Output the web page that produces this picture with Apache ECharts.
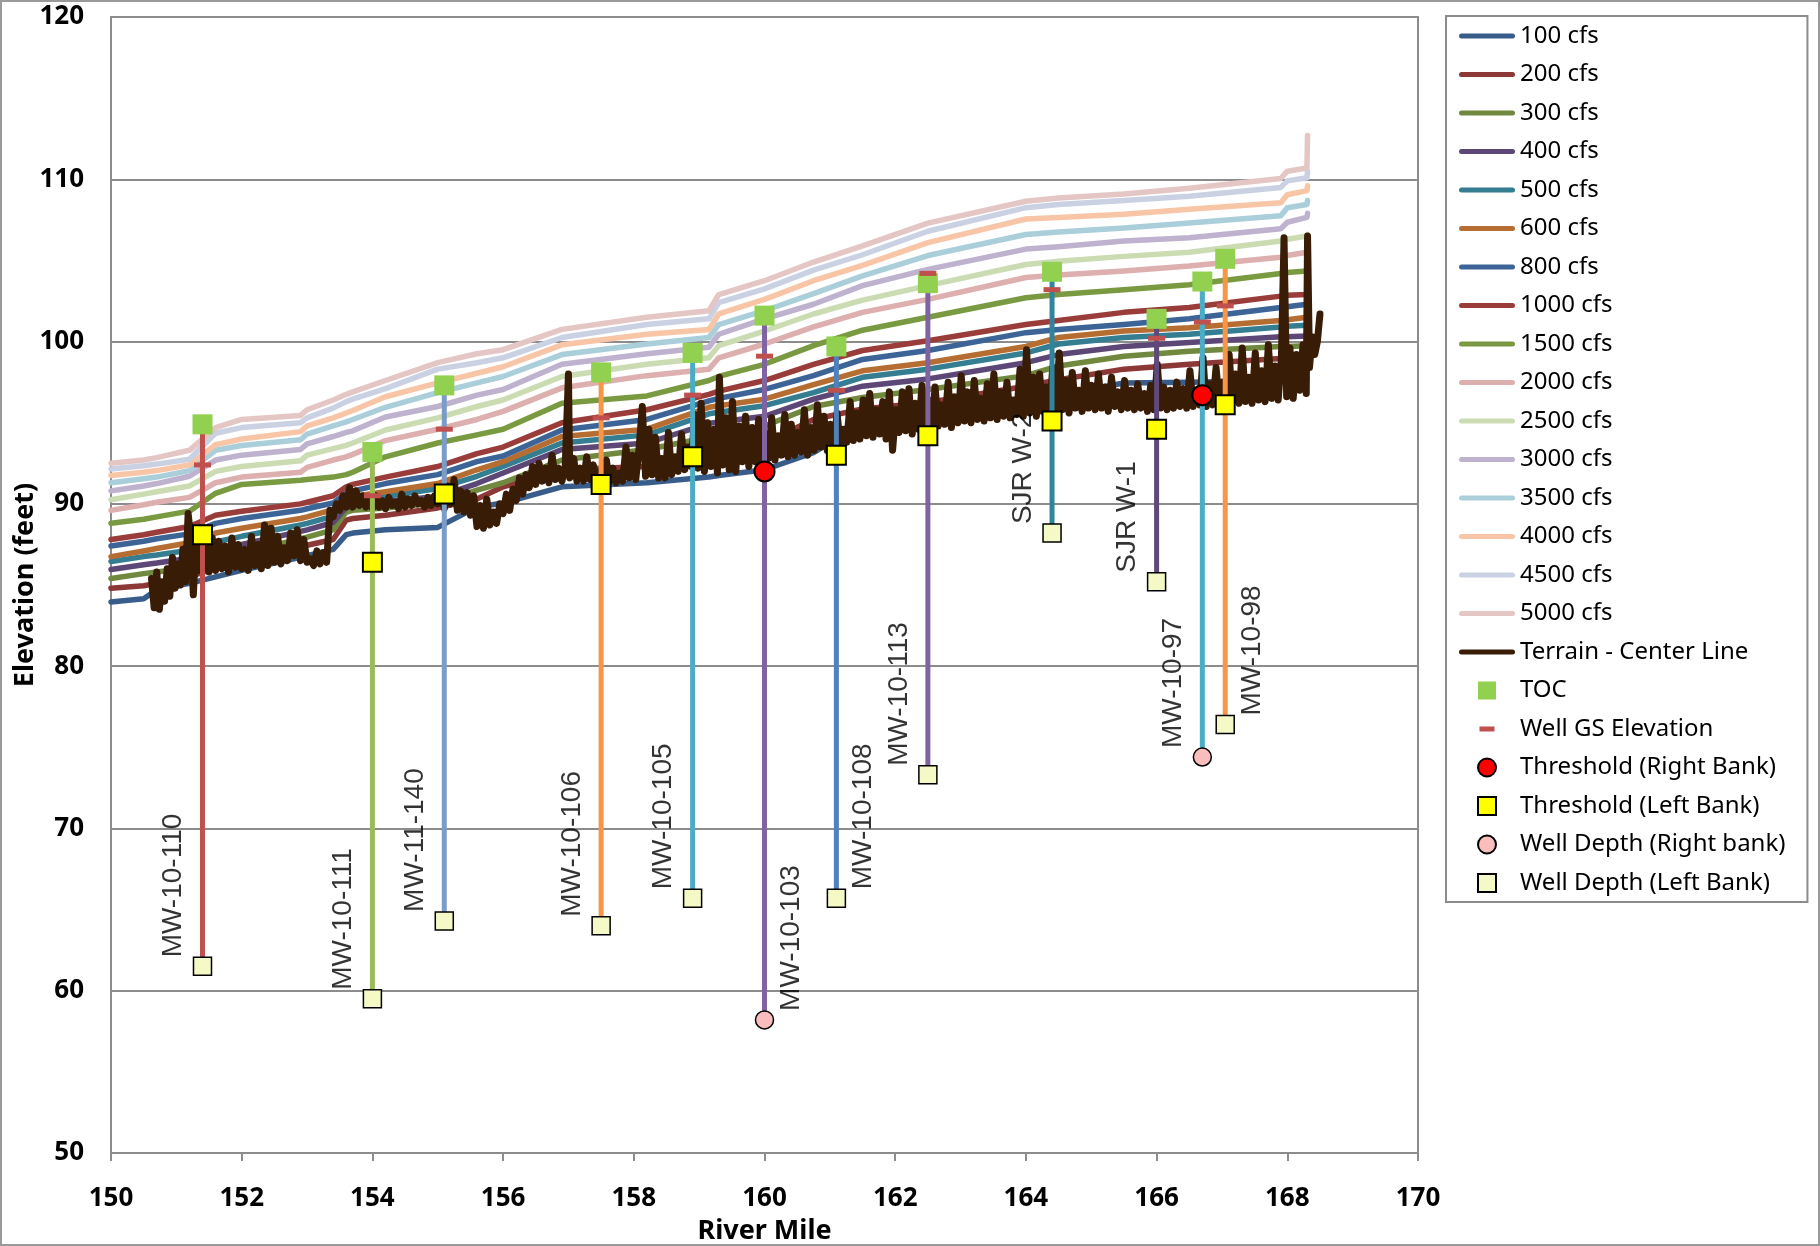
<!DOCTYPE html>
<html><head><meta charset="utf-8">
<script src="https://cdn.jsdelivr.net/npm/echarts@6/dist/echarts.min.js"></script>
<style>html,body{margin:0;padding:0;background:#fff}#c{width:1820px;height:1246px}</style>
</head><body><div id="c"></div>
<script>
// ---------- DATA ----------
const xTicks = [150,152,154,156,158,160,162,164,166,168,170];
const yTicks = [50,60,70,80,90,100,110,120];

const flowNames = ['100 cfs','200 cfs','300 cfs','400 cfs','500 cfs','600 cfs','800 cfs','1000 cfs','1500 cfs','2000 cfs','2500 cfs','3000 cfs','3500 cfs','4000 cfs','4500 cfs','5000 cfs'];
const flowMiles = [150.0,150.5,150.7,151.2,151.6,152.0,152.9,153.0,153.4,153.6,153.7,154.2,155.0,155.6,156.0,156.9,158.2,159.15,159.3,160.0,160.75,161.5,162.5,164.0,164.5,165.5,166.5,167.9,168.0,168.3,168.31];

const flow100  = [83.95,84.15,84.7,85.1,85.5,85.9,86.7,86.8,87.2,88.1,88.2,88.4,88.55,89.8,90.05,91.05,91.3,91.65,91.75,92.1,93.15,95.0,95.65,96.2,96.7,97.45,97.5,97.6,97.6,97.7,97.7];
const flow200  = [84.8,84.95,85.1,85.5,86.05,86.45,87.35,87.45,87.8,89.0,89.1,89.3,89.75,90.3,91.05,92.1,92.3,93.1,93.25,93.75,95.2,95.85,96.25,97.25,97.65,98.3,98.6,98.95,99.0,99.0,99.0];
const flow300  = [85.4,85.7,85.8,86.05,86.55,86.95,87.85,87.95,88.4,89.5,89.6,89.75,90.05,90.85,91.3,92.7,93.35,94.1,94.25,94.8,96.0,96.55,97.05,97.9,98.5,99.1,99.4,99.7,99.7,99.75,99.75];
const flow400  = [85.95,86.25,86.35,86.65,87.15,87.5,88.3,88.4,88.85,89.8,89.9,90.15,90.45,91.25,91.9,93.35,93.75,94.95,95.05,95.4,96.45,97.25,97.7,98.7,99.2,99.7,99.95,100.3,100.3,100.35,100.35];
const flow500  = [86.45,86.75,86.85,87.15,87.65,88.0,88.7,88.8,89.25,90.05,90.15,90.45,90.95,91.7,92.3,93.75,94.25,95.55,95.65,96.05,96.85,97.8,98.3,99.3,99.85,100.25,100.45,100.9,100.95,101.0,101.0];
const flow600  = [86.75,87.1,87.25,87.6,88.2,88.5,89.1,89.2,89.65,90.35,90.45,90.75,91.25,92.1,92.6,94.15,94.6,95.95,96.05,96.45,97.35,98.2,98.7,99.7,100.25,100.65,100.85,101.3,101.35,101.5,101.5];
const flow800  = [87.4,87.7,87.85,88.15,88.8,89.1,89.6,89.7,90.05,90.65,90.8,91.25,91.8,92.6,92.95,94.55,95.2,96.35,96.5,97.05,97.9,98.9,99.45,100.55,100.75,101.05,101.4,102.1,102.15,102.3,102.3];
const flow1000 = [87.8,88.1,88.25,88.6,89.3,89.55,90.0,90.1,90.5,91.05,91.2,91.65,92.3,93.1,93.5,95.0,95.8,96.75,96.95,97.6,98.6,99.45,100.05,101.05,101.3,101.8,102.1,102.8,102.85,102.9,103.0];
const flow1500 = [88.8,89.05,89.2,89.55,90.65,91.2,91.45,91.5,91.65,91.8,91.95,92.9,93.75,94.25,94.6,96.2,96.65,97.6,97.85,98.6,99.75,100.7,101.5,102.7,102.9,103.2,103.5,104.2,104.25,104.35,104.4];
const flow2000 = [89.6,89.95,90.1,90.4,91.3,91.65,91.95,92.25,92.7,92.9,93.05,93.9,94.6,95.2,95.7,97.15,97.9,98.3,99.0,99.85,100.9,101.8,102.6,103.95,104.1,104.35,104.65,105.2,105.3,105.5,105.6];
const flow2500 = [90.25,90.6,90.75,91.1,92.0,92.3,92.65,93.0,93.4,93.6,93.75,94.55,95.3,96.0,96.4,97.85,98.6,99.0,99.75,100.65,101.7,102.55,103.45,104.75,104.95,105.25,105.5,106.2,106.3,106.5,106.6];
const flow3000 = [90.8,91.1,91.25,91.7,92.7,93.0,93.35,93.7,94.15,94.4,94.5,95.35,96.0,96.7,97.05,98.6,99.25,99.65,100.45,101.4,102.3,103.45,104.45,105.7,105.85,106.2,106.4,106.95,107.35,107.65,107.9];
const flow3500 = [91.3,91.55,91.65,92.05,93.3,93.6,93.95,94.3,94.8,95.05,95.2,95.95,96.85,97.45,97.85,99.2,99.85,100.25,101.05,101.9,102.95,104.05,105.3,106.6,106.75,107.0,107.3,107.75,108.25,108.45,108.7];
const flow4000 = [91.75,91.95,92.05,92.4,93.65,94.0,94.45,94.8,95.3,95.6,95.75,96.6,97.45,98.05,98.45,99.8,100.45,100.75,101.7,102.6,103.75,104.7,106.1,107.55,107.65,107.85,108.15,108.55,109.05,109.3,109.6];
const flow4500 = [92.15,92.35,92.45,92.75,94.35,94.7,95.0,95.3,95.9,96.3,96.45,97.1,98.3,98.7,99.0,100.25,101.05,101.4,102.4,103.25,104.4,105.35,106.8,108.25,108.45,108.7,108.95,109.5,109.9,110.1,110.5];
const flow5000 = [92.5,92.7,92.85,93.3,94.7,95.2,95.45,95.8,96.4,96.75,96.9,97.6,98.7,99.25,99.5,100.75,101.5,101.9,102.9,103.75,104.9,105.9,107.3,108.65,108.85,109.1,109.45,110.05,110.5,110.7,112.7];
const flowValues = [flow100,flow200,flow300,flow400,flow500,flow600,flow800,flow1000,flow1500,flow2000,flow2500,flow3000,flow3500,flow4000,flow4500,flow5000];

// Terrain - Center Line [river mile, elevation]
const terrain = [
[150.62,85.4],[150.66,83.6],[150.70,85.8],[150.74,83.5],[150.78,85.2],[150.82,84.0],[150.86,86.0],[150.90,84.3],[150.94,86.7],[150.98,84.8],
[151.02,86.3],[151.06,85.0],[151.10,87.2],[151.14,85.2],[151.18,89.4],[151.22,88.0],[151.26,84.4],[151.30,87.6],[151.34,85.9],[151.38,87.8],
[151.42,86.0],[151.46,87.9],[151.50,85.8],[151.55,87.9],[151.60,85.9],[151.65,87.7],[151.70,86.0],[151.75,87.4],[151.80,85.8],[151.85,87.9],
[151.90,86.1],[151.95,87.5],[152.00,86.0],[152.05,87.2],[152.10,85.9],[152.15,88.0],[152.20,86.2],[152.25,87.5],[152.30,86.0],[152.35,88.7],
[152.40,86.2],[152.45,88.5],[152.50,86.4],[152.55,88.0],[152.60,86.3],[152.65,87.3],[152.70,86.5],[152.75,88.2],[152.80,86.8],[152.85,88.4],
[152.90,86.5],[152.95,87.8],[153.00,86.4],[153.05,86.6],[153.10,86.2],[153.15,87.1],[153.20,86.3],[153.25,87.0],[153.30,86.4],[153.35,89.6],
[153.40,89.2],[153.45,90.0],[153.50,89.6],[153.55,90.5],[153.60,89.8],[153.65,91.0],[153.70,89.8],[153.75,90.8],[153.80,89.9],[153.85,90.5],
[153.90,89.8],[153.95,90.3],[154.00,89.7],[154.05,90.5],[154.10,89.8],[154.15,90.2],[154.20,89.7],[154.25,90.4],[154.30,89.9],[154.35,90.1],
[154.40,89.7],[154.45,90.6],[154.50,89.8],[154.55,90.3],[154.60,89.9],[154.65,90.5],[154.70,90.0],[154.75,90.2],[154.80,89.8],[154.85,90.4],
[154.90,89.9],[154.95,90.5],[155.00,90.0],[155.05,90.6],[155.10,89.7],[155.15,91.1],[155.20,90.0],[155.25,91.5],[155.30,89.6],[155.35,90.8],
[155.40,89.5],[155.45,90.7],[155.50,89.3],[155.55,90.5],[155.60,88.6],[155.65,89.9],[155.70,88.5],[155.75,90.3],[155.80,88.7],[155.85,89.5],
[155.90,88.8],[155.95,90.0],[156.00,89.4],[156.05,90.6],[156.10,89.6],[156.15,90.9],[156.20,90.2],[156.25,91.6],[156.30,90.6],[156.35,91.8],
[156.40,91.0],[156.45,92.3],[156.50,91.2],[156.55,92.5],[156.60,91.4],[156.65,92.2],[156.70,91.3],[156.75,93.0],[156.80,91.5],[156.85,92.2],
[156.90,91.4],[156.95,92.3],[157.00,98.0],[157.02,91.6],[157.08,92.8],[157.13,91.4],[157.18,92.2],[157.23,91.4],[157.28,92.9],[157.33,91.5],
[157.38,92.4],[157.43,91.3],[157.48,92.0],[157.53,91.4],[157.58,92.7],[157.63,91.4],[157.68,92.2],[157.73,91.3],[157.78,91.9],[157.83,91.4],
[157.88,93.5],[157.93,91.6],[157.98,93.0],[158.03,91.5],[158.08,93.4],[158.13,96.0],[158.18,91.7],[158.23,94.6],[158.28,91.8],[158.33,94.1],
[158.38,91.6],[158.43,92.8],[158.48,91.6],[158.53,94.4],[158.58,91.8],[158.63,92.9],[158.68,92.0],[158.73,94.3],[158.78,92.1],[158.83,93.5],
[158.88,92.3],[158.93,95.5],[158.98,92.2],[159.03,96.2],[159.08,92.0],[159.13,95.0],[159.18,92.3],[159.23,94.6],[159.28,91.9],[159.31,97.8],
[159.36,92.4],[159.41,95.3],[159.46,92.1],[159.51,96.3],[159.56,92.0],[159.61,94.8],[159.66,92.6],[159.71,95.4],[159.76,92.3],[159.81,94.7],
[159.86,92.6],[159.91,95.2],[159.96,92.5],[160.01,94.3],[160.06,92.8],[160.11,95.3],[160.16,92.7],[160.21,94.2],[160.26,93.0],[160.31,95.5],
[160.36,92.9],[160.41,94.9],[160.46,93.0],[160.51,94.4],[160.56,93.2],[160.61,95.8],[160.66,93.0],[160.71,94.7],[160.76,93.3],[160.81,96.1],
[160.86,93.5],[160.91,95.4],[160.96,93.3],[161.01,94.9],[161.06,93.5],[161.11,95.6],[161.16,93.6],[161.21,94.6],[161.26,93.8],[161.31,96.3],
[161.36,93.9],[161.41,95.6],[161.46,94.0],[161.51,96.4],[161.56,94.2],[161.61,96.8],[161.66,94.1],[161.71,95.8],[161.76,94.3],[161.81,96.3],
[161.86,94.0],[161.91,96.9],[161.96,93.3],[162.01,95.8],[162.06,94.4],[162.11,96.9],[162.16,94.5],[162.21,97.1],[162.26,94.3],[162.31,96.2],
[162.36,94.6],[162.41,97.3],[162.46,94.7],[162.51,96.4],[162.56,94.6],[162.61,97.2],[162.66,94.8],[162.71,96.1],[162.76,94.9],[162.81,97.5],
[162.86,94.7],[162.91,96.6],[162.96,95.0],[163.01,97.9],[163.06,95.1],[163.11,96.9],[163.16,95.0],[163.21,97.6],[163.26,95.2],[163.31,96.5],
[163.36,95.1],[163.41,97.4],[163.46,95.3],[163.51,98.0],[163.56,95.2],[163.61,96.9],[163.66,95.4],[163.71,97.5],[163.76,95.3],[163.81,96.4],
[163.86,95.5],[163.91,98.3],[163.96,95.4],[164.01,99.5],[164.06,95.6],[164.11,97.8],[164.16,95.4],[164.21,98.0],[164.26,95.7],[164.31,97.2],
[164.36,95.5],[164.41,98.4],[164.46,95.7],[164.51,99.3],[164.56,95.8],[164.61,97.6],[164.66,95.6],[164.71,98.1],[164.76,95.9],[164.81,97.0],
[164.86,95.7],[164.91,98.2],[164.96,95.9],[165.01,97.3],[165.06,95.8],[165.11,98.0],[165.16,95.9],[165.21,97.2],[165.26,95.7],[165.31,97.8],
[165.36,96.0],[165.41,96.9],[165.46,95.8],[165.51,97.6],[165.56,95.9],[165.61,97.0],[165.66,95.8],[165.71,97.4],[165.76,95.9],[165.81,96.8],
[165.86,95.7],[165.91,97.3],[165.96,95.8],[166.01,98.6],[166.06,95.9],[166.11,97.2],[166.16,95.8],[166.21,97.0],[166.26,95.9],[166.31,97.5],
[166.36,96.0],[166.41,97.1],[166.46,95.9],[166.51,98.2],[166.56,96.0],[166.61,97.0],[166.66,96.1],[166.71,99.0],[166.76,96.0],[166.81,97.4],
[166.86,96.1],[166.91,98.4],[166.96,96.2],[167.01,97.5],[167.06,96.1],[167.11,99.2],[167.16,96.3],[167.21,98.0],[167.26,96.2],[167.31,99.6],
[167.36,96.3],[167.41,97.8],[167.46,96.2],[167.51,99.3],[167.56,96.4],[167.61,98.2],[167.66,96.3],[167.71,99.8],[167.76,96.5],[167.81,98.5],
[167.86,96.4],[167.91,99.0],[167.95,106.4],[167.99,96.6],[168.04,99.6],[168.09,96.5],[168.14,99.2],[168.19,97.0],[168.24,99.8],[168.29,96.8],
[168.31,106.5],[168.34,98.4],[168.38,100.3],[168.42,99.2],[168.46,100.0],[168.50,101.7]
];

// Monitoring wells
const wellNames     = ['MW-10-110','MW-10-111','MW-11-140','MW-10-106','MW-10-105','MW-10-103','MW-10-108','MW-10-113','SJR W-2','SJR W-1','MW-10-97','MW-10-98'];
const wellMiles     = [151.4,154.0,155.1,157.5,158.9,160.0,161.1,162.5,164.4,166.0,166.7,167.05];
const wellTOC       = [94.9,93.2,97.3,98.1,99.3,101.6,99.7,103.6,104.3,101.4,103.7,105.1];
const wellGS        = [92.4,90.5,94.6,95.3,96.7,99.1,97.0,104.2,103.2,100.2,101.2,102.2];
const wellThreshold = [88.1,86.4,90.6,91.2,92.9,92.0,93.0,94.2,95.1,94.6,96.7,96.1];
const wellDepth     = [61.5,59.5,64.3,64.0,65.7,58.2,65.7,73.3,88.2,85.2,74.4,76.4];
const wellBank      = ['L','L','L','L','L','R','L','L','L','L','R','L'];
const labelSide     = ['L','L','L','L','L','R','R','L','L','L','L','R'];

// ---------- STYLE ----------
const flowColors = ['#385D8A','#8C3836','#71893F','#5C4776','#357D91','#B66D31','#3C6496','#9A3C3A','#7A9A42','#DDAFAE','#CBDCB3','#BEB2CE','#ABCFDA','#F8C5A6','#C9D1E2','#E4C6C5'];
const wellColors = ['#C0504D','#9BBB59','#7B9CC8','#F79646','#4BACC6','#8064A2','#4F81BD','#8064A2','#31849B','#5F497A','#4BACC6','#F79646'];
const gridGray = '#8C8C8C';
const terrainColor = '#381C06';
const uiFont = '"Noto Sans", "DejaVu Sans", sans-serif';

const series = [];
flowNames.forEach((n, k) => {
  series.push({
    name: n, type: 'line', symbol: 'none', showSymbol: false, z: 2,
    data: flowMiles.map((m, i) => [m, flowValues[k][i]]),
    lineStyle: { color: flowColors[k], width: 5.5, cap: 'round', join: 'round' },
    itemStyle: { color: flowColors[k] },
    emphasis: { disabled: true }
  });
});
series.push({
  name: 'Terrain - Center Line', type: 'line', symbol: 'none', showSymbol: false, z: 3,
  data: terrain,
  lineStyle: { color: terrainColor, width: 7, join: 'round', cap: 'round' },
  itemStyle: { color: terrainColor },
  emphasis: { disabled: true }
});
wellNames.forEach((n, i) => {
  series.push({
    name: 'well_' + n, type: 'line', symbol: 'none', showSymbol: false, z: 4, silent: true,
    data: [[wellMiles[i], Math.max(wellTOC[i], wellGS[i])], [wellMiles[i], wellDepth[i]]],
    lineStyle: { color: wellColors[i], width: 5 }
  });
});
const pts = (vals, filt) => wellMiles.map((m, i) => (filt && !filt(i)) ? null : [m, vals[i]]).filter(d => d);
series.push({ name: 'TOC', type: 'scatter', z: 6, symbol: 'rect', symbolSize: 20,
  data: pts(wellTOC), itemStyle: { color: '#92D050', opacity: 1 } });
series.push({ name: 'Well GS Elevation', type: 'scatter', z: 7, symbol: 'rect', symbolSize: [17, 5],
  data: pts(wellGS), itemStyle: { color: '#C0504D', opacity: 1 } });
series.push({ name: 'Threshold (Right Bank)', type: 'scatter', z: 7, symbol: 'circle', symbolSize: 20,
  data: pts(wellThreshold, i => wellBank[i] === 'R'), itemStyle: { color: '#FF0000', borderColor: '#000', borderWidth: 2, opacity: 1 } });
series.push({ name: 'Threshold (Left Bank)', type: 'scatter', z: 7, symbol: 'rect', symbolSize: 19,
  data: pts(wellThreshold, i => wellBank[i] === 'L'), itemStyle: { color: '#FFFF00', borderColor: '#000', borderWidth: 2, opacity: 1 } });
series.push({ name: 'Well Depth (Right bank)', type: 'scatter', z: 7, symbol: 'circle', symbolSize: 18,
  data: pts(wellDepth, i => wellBank[i] === 'R'), itemStyle: { color: '#F9BDBD', borderColor: '#000', borderWidth: 1.5, opacity: 1 } });
series.push({ name: 'Well Depth (Left Bank)', type: 'scatter', z: 7, symbol: 'rect', symbolSize: 18,
  data: pts(wellDepth, i => wellBank[i] === 'L'), itemStyle: { color: '#F4F9C6', borderColor: '#000', borderWidth: 1.5, opacity: 1 } });
// well name labels
series.push({
  name: 'wellLabels', type: 'scatter', z: 5, silent: true, symbol: 'circle', symbolSize: 2,
  itemStyle: { color: 'rgba(0,0,0,0)' },
  data: wellNames.map((n, i) => ({
    name: n, value: [wellMiles[i], wellDepth[i]],
    label: { position: labelSide[i] === 'L' ? [-28, -8] : [28, -8] }
  })),
  label: { show: true, formatter: '{b}', rotate: 90, align: 'left', verticalAlign: 'middle',
    fontFamily: '"Liberation Sans", Arial, sans-serif', fontSize: 28, color: '#000' }
});

const lineIcon = 'path://M2.5,0H53.5A2.5,2.5 0 0 1 53.5,5H2.5A2.5,2.5 0 0 1 2.5,0Z';
const sq = 'path://M0,0H10V10H0Z';
const dash = 'path://M0,0L18,0L18,0.01Z M0,18L18,18L18,17.99Z M1.5,6.5H16.5V11.5H1.5Z';
const legendData = flowNames.concat(['Terrain - Center Line']).map(n => ({ name: n, icon: lineIcon }))
  .concat([
    { name: 'TOC', icon: sq },
    { name: 'Well GS Elevation', icon: dash },
    { name: 'Threshold (Right Bank)', icon: 'circle' },
    { name: 'Threshold (Left Bank)', icon: sq },
    { name: 'Well Depth (Right bank)', icon: 'circle' },
    { name: 'Well Depth (Left Bank)', icon: sq }
  ]);

const chart = echarts.init(document.getElementById('c'), null, { renderer: 'canvas' });
chart.setOption({
  animation: false,
  backgroundColor: '#fff',
  graphic: [{ type: 'rect', shape: { x: 1, y: 1, width: 1818, height: 1244 }, style: { fill: 'none', stroke: '#9A9A9A', lineWidth: 2 }, silent: true }],
  grid: { left: 111, top: 17, right: 402, bottom: 93, show: true, borderColor: gridGray, borderWidth: 2,
    backgroundColor: 'transparent', containLabel: false, outerBoundsMode: 'none' },
  legend: {
    orient: 'vertical', left: 1446, top: 16,
    padding: [8, 22, 7, 13], itemGap: 14.5, itemWidth: 56, itemHeight: 18,
    borderColor: gridGray, borderWidth: 2, backgroundColor: '#fff',
    textStyle: { fontFamily: uiFont, fontSize: 24, color: '#000', lineHeight: 24 },
    selectedMode: false,
    data: legendData
  },
  xAxis: {
    type: 'value', min: xTicks[0], max: xTicks[xTicks.length - 1], interval: 2,
    name: 'River Mile', nameLocation: 'middle', nameGap: 65, nameMoveOverlap: false,
    nameTextStyle: { fontFamily: uiFont, fontSize: 27, fontWeight: 'bold', color: '#000' },
    axisLine: { lineStyle: { color: gridGray, width: 2 } },
    axisTick: { show: true, length: 8, lineStyle: { color: gridGray, width: 2 } },
    axisLabel: { fontFamily: uiFont, fontSize: 26, fontWeight: 'bold', color: '#000', margin: 33 },
    splitLine: { show: false }
  },
  yAxis: {
    type: 'value', min: yTicks[0], max: yTicks[yTicks.length - 1], interval: 10,
    name: 'Elevation (feet)', nameLocation: 'middle', nameGap: 72, nameMoveOverlap: false,
    nameTextStyle: { fontFamily: uiFont, fontSize: 27, fontWeight: 'bold', color: '#000' },
    axisLine: { show: true, lineStyle: { color: gridGray, width: 2 } },
    axisTick: { show: false },
    axisLabel: { fontFamily: uiFont, fontSize: 26, fontWeight: 'bold', color: '#000', margin: 27 },
    splitLine: { show: true, lineStyle: { color: gridGray, width: 2 } }
  },
  series: series
});
</script></body></html>
